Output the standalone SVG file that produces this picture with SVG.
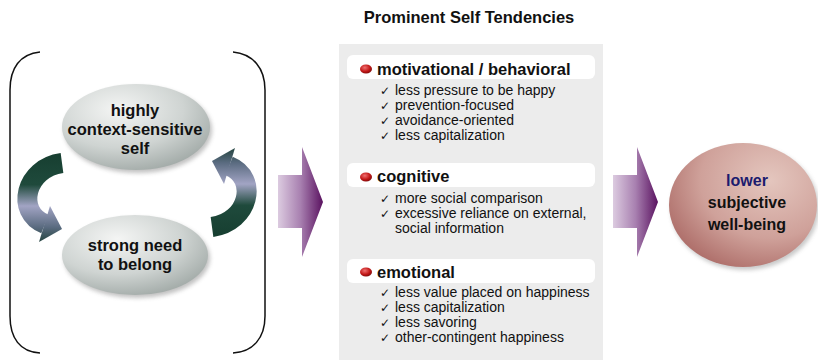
<svg xmlns="http://www.w3.org/2000/svg" width="818" height="360" viewBox="0 0 818 360">
<defs>
<style>
.t{font-family:"Liberation Sans",Arial,sans-serif;font-weight:bold;fill:#111;}
.hd{font-family:"Liberation Sans",Arial,sans-serif;font-weight:bold;font-size:16.5px;fill:#111;}
.it{font-family:"Liberation Sans",Arial,sans-serif;font-size:14px;fill:#111;}
.ck{font-family:"DejaVu Sans",sans-serif;font-size:12px;fill:#111;}
.hbox{fill:#ffffff;}
.br{fill:none;stroke:#111;stroke-width:1.5;}
</style>
<radialGradient id="gray" cx="0.38" cy="0.3" r="0.8">
<stop offset="0" stop-color="#f4f5f4"/>
<stop offset="0.55" stop-color="#cfd4d2"/>
<stop offset="1" stop-color="#9aa3a0"/>
</radialGradient>
<radialGradient id="rose" cx="0.68" cy="0.3" r="0.85">
<stop offset="0" stop-color="#e4c6be"/>
<stop offset="0.55" stop-color="#cfa19a"/>
<stop offset="1" stop-color="#a6625e"/>
</radialGradient>
<radialGradient id="bul" cx="0.4" cy="0.35" r="0.7">
<stop offset="0" stop-color="#f07070"/>
<stop offset="0.6" stop-color="#c21818"/>
<stop offset="1" stop-color="#7a0808"/>
</radialGradient>
<linearGradient id="purp" x1="0" y1="0" x2="1" y2="0">
<stop offset="0" stop-color="#dccbe0"/>
<stop offset="0.5" stop-color="#a880b0"/>
<stop offset="1" stop-color="#5a1260"/>
</linearGradient>
<linearGradient id="cyc" gradientUnits="userSpaceOnUse" x1="0" y1="155" x2="0" y2="240">
<stop offset="0" stop-color="#173f31"/>
<stop offset="0.35" stop-color="#1f4a3c"/>
<stop offset="0.6" stop-color="#a2a4c4"/>
<stop offset="0.85" stop-color="#5a6b80"/>
<stop offset="1" stop-color="#2c4a48"/>
</linearGradient>
<filter id="sh" x="-20%" y="-20%" width="140%" height="140%">
<feGaussianBlur stdDeviation="2"/>
</filter>
</defs>

<rect x="339" y="44" width="264" height="316" fill="#ececec"/>

<text class="t" x="469" y="23" font-size="16.5" text-anchor="middle">Prominent Self Tendencies</text>

<path class="br" d="M 40 52 C 20 54, 10 68, 10 90 L 10 316 C 10 338, 20 352, 40 353"/>
<path class="br" d="M 233 52 C 253 54, 265 68, 265 90 L 265 316 C 265 338, 253 352, 233 353"/>

<g id="connectors">
<g id="cycle-left">
<path d="M 62 163 C 25 168, 15 212, 45 224" fill="none" stroke="url(#cyc)" stroke-width="20"/>
<polygon points="50,206 62,229 39,242" fill="url(#cyc)"/>
</g>
<g id="cycle-right" transform="rotate(180 137 195)">
<path d="M 62 163 C 25 168, 15 212, 45 224" fill="none" stroke="url(#cyc)" stroke-width="20"/>
<polygon points="50,206 62,229 39,242" fill="url(#cyc)"/>
</g>
<polygon id="arrow-1" points="278,175 302,175 302,147 323,202 302,257 302,228 278,228" fill="url(#purp)"/>
<polygon id="arrow-2" points="613,175 637,175 637,147 658,202 637,257 637,228 613,228" fill="url(#purp)"/>
</g>

<g id="node-self">
<ellipse cx="138" cy="130" rx="74" ry="43" fill="#777" opacity="0.45" filter="url(#sh)"/>
<ellipse cx="136" cy="127" rx="74" ry="43" fill="url(#gray)"/>
<text class="t" font-size="16.5" text-anchor="middle"><tspan x="135" y="116">highly</tspan><tspan x="135" y="135">context-sensitive</tspan><tspan x="135" y="154">self</tspan></text>
</g>

<g id="node-belong">
<ellipse cx="137" cy="258" rx="73" ry="40" fill="#777" opacity="0.45" filter="url(#sh)"/>
<ellipse cx="135" cy="255" rx="73" ry="40" fill="url(#gray)"/>
<text class="t" font-size="16.5" text-anchor="middle"><tspan x="135" y="251">strong need</tspan><tspan x="135" y="270">to belong</tspan></text>
</g>

<g id="node-motivational">
<rect class="hbox" x="347" y="55" width="248" height="24" rx="6"/>
<ellipse cx="366" cy="69" rx="6" ry="4.5" fill="url(#bul)"/>
<text class="hd" x="377" y="75">motivational / behavioral</text>
<text class="ck" x="380" y="95">✓</text><text class="it" x="395" y="95">less pressure to be happy</text>
<text class="ck" x="380" y="110">✓</text><text class="it" x="395" y="110">prevention-focused</text>
<text class="ck" x="380" y="125">✓</text><text class="it" x="395" y="125">avoidance-oriented</text>
<text class="ck" x="380" y="140">✓</text><text class="it" x="395" y="140">less capitalization</text>
</g>

<g id="node-cognitive">
<rect class="hbox" x="347" y="163" width="248" height="24" rx="6"/>
<ellipse cx="366" cy="177" rx="6" ry="4.5" fill="url(#bul)"/>
<text class="hd" x="377" y="182">cognitive</text>
<text class="ck" x="380" y="203">✓</text><text class="it" x="395" y="203">more social comparison</text>
<text class="ck" x="380" y="218">✓</text><text class="it" x="395" y="218">excessive reliance on external,</text>
<text class="it" x="395" y="233">social information</text>
</g>

<g id="node-emotional">
<rect class="hbox" x="347" y="259" width="248" height="24" rx="6"/>
<ellipse cx="366" cy="272" rx="6" ry="4.5" fill="url(#bul)"/>
<text class="hd" x="377" y="278">emotional</text>
<text class="ck" x="380" y="297">✓</text><text class="it" x="395" y="297">less value placed on happiness</text>
<text class="ck" x="380" y="312">✓</text><text class="it" x="395" y="312">less capitalization</text>
<text class="ck" x="380" y="327">✓</text><text class="it" x="395" y="327">less savoring</text>
<text class="ck" x="380" y="342">✓</text><text class="it" x="395" y="342">other-contingent happiness</text>
</g>

<g id="node-wellbeing">
<ellipse cx="745" cy="208" rx="74" ry="62" fill="#777" opacity="0.4" filter="url(#sh)"/>
<ellipse cx="743" cy="205" rx="74" ry="62" fill="url(#rose)"/>
<text class="t" font-size="16" text-anchor="middle"><tspan x="747" y="186" fill="#1b1b6e">lower</tspan><tspan x="747" y="208">subjective</tspan><tspan x="747" y="230">well-being</tspan></text>
</g>
</svg>
